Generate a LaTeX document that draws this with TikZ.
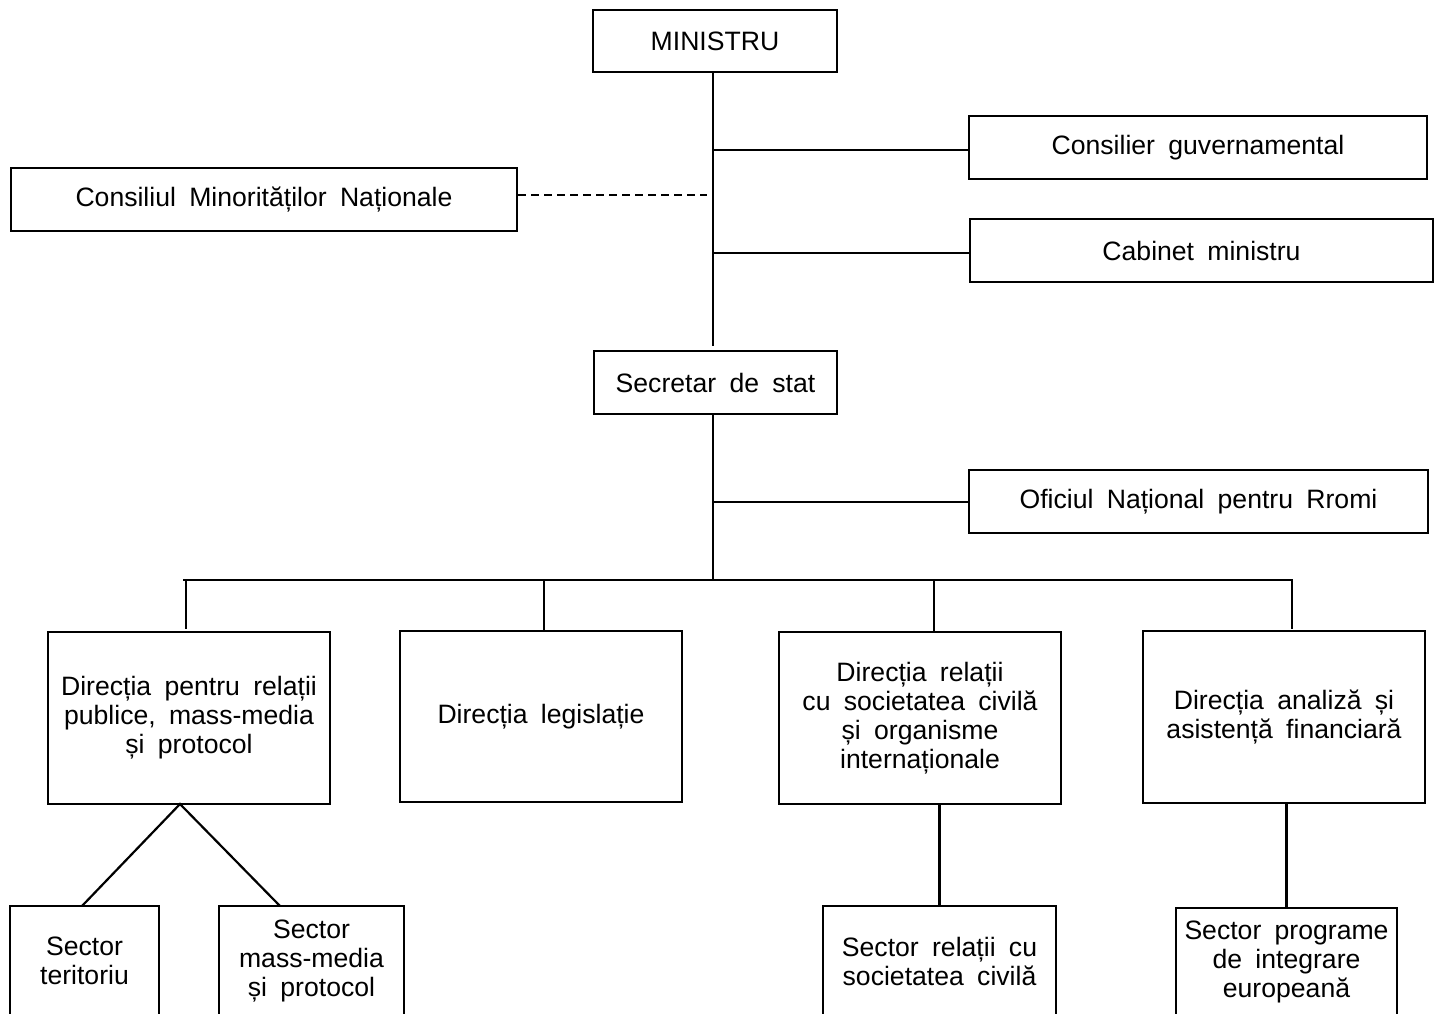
\documentclass[tikz,border=0pt]{standalone}
\usepackage{fontspec}
\setmainfont{Liberation Sans}[WordSpace=1.8]
\usetikzlibrary{calc}

\tikzset{
  unit/.style={draw,line width=1.1pt,align=center,inner sep=0pt,
    font=\fontsize{13.3}{14.5}\selectfont},
  link/.style={line width=1.1pt},
}

\begin{document}
\begin{tikzpicture}[x=0.5pt,y=-0.5pt]
\useasboundingbox (0,0) rectangle (1439,1013);
\clip (0,0) rectangle (1439,1013);

% top level
\node[unit,minimum width=122pt,minimum height=31pt] (min) at (715,41) {MINISTRU};
\node[unit,minimum width=229pt,minimum height=31.5pt] (consilier) at (1198,147.5) {Consilier guvernamental};
\node[unit,minimum width=253pt,minimum height=31.5pt] (cmn) at (264,199.5) {Consiliul Minorităților Naționale};
\node[unit,minimum width=231.5pt,minimum height=31.5pt] (cabinet) at (1201.5,250.5) {Cabinet ministru};
\node[unit,minimum width=121.5pt,minimum height=31.5pt] (secretar) at (715.5,382.5) {Secretar de stat};
\node[unit,minimum width=229.5pt,minimum height=31.5pt] (oficiul) at (1198.5,501.5) {Oficiul Național pentru Rromi};

% directii
\node[unit,minimum width=141pt,minimum height=86pt] (drp) at (189,718) {Direcția pentru relații\\publice, mass-media\\și protocol};
\node[unit,minimum width=141pt,minimum height=85.5pt] (dleg) at (541,716.5) {Direcția legislație};
\node[unit,minimum width=141pt,minimum height=86pt] (drsc) at (920,718) {Direcția relații\\cu societatea civilă\\și organisme\\internaționale};
\node[unit,minimum width=141pt,minimum height=86pt] (dafi) at (1284,717) {Direcția analiză și\\asistență financiară};

% sectoare
\node[unit,minimum width=74.5pt,minimum height=55pt] (st) at (84.5,961) {Sector\\teritoriu};
\node[unit,minimum width=92.5pt,minimum height=55pt] (smm) at (311.5,961) {Sector\\mass-media\\și protocol};
\node[unit,minimum width=116.5pt,minimum height=55pt] (src) at (939.5,961) {Sector relații cu\\societatea civilă};
\node[unit,minimum width=110.5pt,minimum height=54pt] (spi) at (1286.5,962) {Sector programe\\de integrare\\europeană};

% trunk
\coordinate (t1) at (713,346);
\coordinate (j1) at (713,150);
\coordinate (j2) at (707,195);
\coordinate (j3) at (713,253);
\coordinate (j4) at (713,502);
\coordinate (bar) at (713,580);
\draw[link] (min.south -| t1) -- (t1);
\draw[link] (j1) -- (j1 -| consilier.west);
\draw[link] (j3) -- (j3 -| cabinet.west);
\draw[link,dash pattern=on 4pt off 2.5pt] (cmn.east |- j2) -- (j2);
\draw[link] (secretar.south -| bar) -- (bar);
\draw[link] (j4) -- (j4 -| oficiul.west);

% bar
\draw[link] (183,580) -- (1293,580);
\draw[link] (186,580) -- (186,629);
\draw[link] (544,580) -- (dleg.north -| 544,0);
\draw[link] (934,580) -- (drsc.north -| 934,0);
\draw[link] (1292,580) -- (1292,629);

% sub-units
\coordinate (apex) at (180,804);
\draw[link] (82,906) -- (apex) -- (280,906);
\draw[link] (drsc.south -| src.north) -- (src.north);
\draw[link] (dafi.south -| spi.north) -- (spi.north);
\end{tikzpicture}
\end{document}
